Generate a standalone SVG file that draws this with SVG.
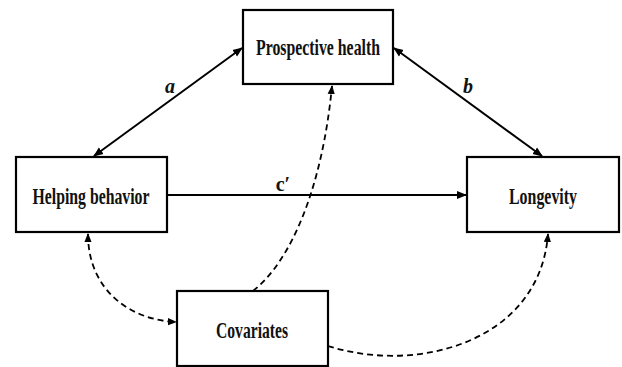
<svg xmlns="http://www.w3.org/2000/svg" width="622" height="367" viewBox="0 0 622 367">
<style>
.box{fill:#fff;stroke:#000;stroke-width:2.2}
.t{font-family:"Liberation Serif","Times New Roman",serif;font-weight:bold;font-size:24px;fill:#111;text-anchor:middle}
.lbl{font-family:"Liberation Serif","Times New Roman",serif;font-weight:bold;font-style:italic;font-size:20px;fill:#111;text-anchor:middle}
.solid{fill:none;stroke:#000;stroke-width:2}
.dash{fill:none;stroke:#000;stroke-width:1.8;stroke-dasharray:6 4}
</style>
<defs>
<marker id="ah" viewBox="0 0 10 10" refX="9" refY="5" markerWidth="5" markerHeight="5" orient="auto-start-reverse" markerUnits="strokeWidth">
<path d="M0,1 L10,5 L0,9 z" fill="#000"/>
</marker>
</defs>
<rect width="622" height="367" fill="#fff"/>
<g id="connectors">
<line class="solid" x1="242" y1="48" x2="94" y2="156" marker-start="url(#ah)" marker-end="url(#ah)"/>
<line class="solid" x1="394" y1="48" x2="542" y2="156" marker-start="url(#ah)" marker-end="url(#ah)"/>
<line class="solid" x1="167" y1="195" x2="466" y2="195" marker-end="url(#ah)"/>
<path class="dash" d="M253,291 C290,262 322,190 332,86" marker-end="url(#ah)"/>
<path class="dash" d="M88,234 C88,290 130,320 176,322" marker-start="url(#ah)" marker-end="url(#ah)"/>
<path class="dash" d="M328,346 C420,375 540,340 548,234" marker-end="url(#ah)"/>
<text class="lbl" x="170" y="93">a</text>
<text class="lbl" x="468" y="93">b</text>
<text class="lbl" x="283" y="191" style="font-style:normal">c′</text>
</g>
<g id="prospective-health">
<rect class="box" x="243" y="10" width="150" height="74"/>
<text class="t" x="318" y="55" textLength="124" lengthAdjust="spacingAndGlyphs">Prospective health</text>
</g>
<g id="helping-behavior">
<rect class="box" x="16" y="157" width="151" height="75"/>
<text class="t" x="91" y="204" textLength="117" lengthAdjust="spacingAndGlyphs">Helping behavior</text>
</g>
<g id="longevity">
<rect class="box" x="467" y="157" width="152" height="75"/>
<text class="t" x="543" y="204" textLength="68" lengthAdjust="spacingAndGlyphs">Longevity</text>
</g>
<g id="covariates">
<rect class="box" x="177" y="291" width="151" height="75"/>
<text class="t" x="252" y="338" textLength="72" lengthAdjust="spacingAndGlyphs">Covariates</text>
</g>
</svg>
